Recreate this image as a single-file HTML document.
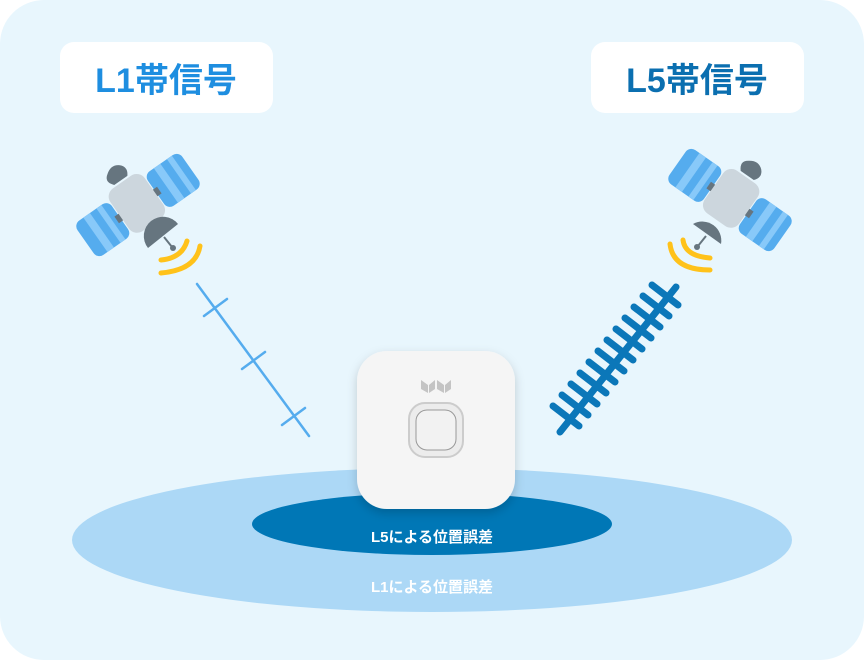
<!DOCTYPE html>
<html><head><meta charset="utf-8"><style>
html,body{margin:0;padding:0;background:#fff;}
svg{display:block;font-family:"Liberation Sans","Noto Sans CJK JP",sans-serif;}
</style></head><body>
<svg width="864" height="660" viewBox="0 0 864 660" xmlns="http://www.w3.org/2000/svg">
<defs>
<filter id="sh" x="-30%" y="-30%" width="160%" height="160%"><feDropShadow dx="0" dy="4" stdDeviation="5" flood-color="#000" flood-opacity="0.18"/></filter>
<g id="sat">
  <rect x="-64" y="-21" width="42" height="42" rx="7" fill="#55acee"/>
  <rect x="-52" y="-21" width="8" height="42" fill="#88c9f9"/>
  <rect x="-36" y="-21" width="6" height="42" fill="#88c9f9"/>
  <rect x="22" y="-21" width="42" height="42" rx="7" fill="#55acee"/>
  <rect x="34" y="-21" width="8" height="42" fill="#88c9f9"/>
  <rect x="50" y="-21" width="6" height="42" fill="#88c9f9"/>
  <rect x="-26" y="-4" width="8" height="8" fill="#66757f"/>
  <rect x="18" y="-4" width="8" height="8" fill="#66757f"/>
  <path d="M-8,-30 q-7,-8 1,-13 q8,-6 15,0 q6,6 0,13 z" fill="#66757f"/>
  <rect x="-21" y="-28" width="42" height="52" rx="10" fill="#ccd6dd"/>
</g>
</defs>
<rect x="0" y="0" width="864" height="660" rx="44" fill="#e8f6fd"/>

<rect x="60" y="42" width="213" height="71" rx="14" fill="#fff"/>
<text x="166" y="92" text-anchor="middle" font-size="34" font-weight="bold" fill="#1e8ee0">L1帯信号</text>
<rect x="591" y="42" width="213" height="71" rx="14" fill="#fff"/>
<text x="697" y="92" text-anchor="middle" font-size="34" font-weight="bold" fill="#0b6fb0">L5帯信号</text>

<use href="#sat" transform="translate(138,205) rotate(-35)"/>
<path d="M148,248 A19,19 0 0 1 178,224 Z" fill="#66757f"/>
<line x1="164" y1="237" x2="172" y2="247" stroke="#66757f" stroke-width="2"/>
<circle cx="173" cy="248" r="3" fill="#66757f"/>
<path d="M161,260 Q182,258 187,241" fill="none" stroke="#ffc21a" stroke-width="5" stroke-linecap="round"/>
<path d="M161,273 Q196,270 200,246" fill="none" stroke="#ffc21a" stroke-width="5" stroke-linecap="round"/>

<use href="#sat" transform="translate(730,200) rotate(35)"/>
<path d="M693,224 A19,19 0 0 1 721,244 Z" fill="#66757f"/>
<line x1="706" y1="236" x2="698" y2="246" stroke="#66757f" stroke-width="2"/>
<circle cx="697" cy="247" r="3" fill="#66757f"/>
<path d="M683,240 Q685,256 710,258" fill="none" stroke="#ffc21a" stroke-width="5" stroke-linecap="round"/>
<path d="M670,244 Q673,270 710,270" fill="none" stroke="#ffc21a" stroke-width="5" stroke-linecap="round"/>

<g stroke="#55acee" stroke-width="2.5" stroke-linecap="round">
<line x1="197" y1="284" x2="309" y2="436"/>
<line x1="204" y1="316" x2="227" y2="299"/>
<line x1="242" y1="369" x2="265" y2="352"/>
<line x1="282" y1="425" x2="305" y2="408"/>
</g>

<g stroke="#0b77b9" stroke-width="7" stroke-linecap="round">
<line x1="676" y1="287" x2="560" y2="432"/>
<line x1="652" y1="285" x2="678" y2="305"/>
<line x1="643" y1="296" x2="669" y2="316"/>
<line x1="634" y1="307" x2="660" y2="327"/>
<line x1="625" y1="318" x2="651" y2="338"/>
<line x1="616" y1="329" x2="642" y2="349"/>
<line x1="607" y1="340" x2="633" y2="360"/>
<line x1="598" y1="351" x2="624" y2="371"/>
<line x1="589" y1="362" x2="615" y2="382"/>
<line x1="580" y1="373" x2="606" y2="393"/>
<line x1="571" y1="384" x2="597" y2="404"/>
<line x1="562" y1="395" x2="588" y2="415"/>
<line x1="553" y1="406" x2="579" y2="426"/>
</g>

<ellipse cx="432" cy="540" rx="360" ry="72" fill="#acd8f6"/>
<ellipse cx="432" cy="524" rx="180" ry="31" fill="#0077b6"/>
<text x="432" y="542" text-anchor="middle" font-size="15" font-weight="bold" fill="#fff">L5による位置誤差</text>
<text x="432" y="592" text-anchor="middle" font-size="15" font-weight="bold" fill="#fff">L1による位置誤差</text>

<rect x="357" y="351" width="158" height="158" rx="30" fill="#f5f5f5" filter="url(#sh)"/>
<path d="M421,389 v-9 l7,5 v8 z M429,385 l6,-5 v9 l-6,4 z M437,389 v-9 l7,5 v8 z M445,385 l6,-5 v9 l-6,4 z" fill="#c4c4c4"/>
<rect x="409" y="403" width="54" height="54" rx="16" fill="#ececec" stroke="#ccc" stroke-width="2"/>
<rect x="416" y="410" width="40" height="40" rx="11" fill="#f2f2f2" stroke="#999" stroke-width="1"/>
</svg>
</body></html>
